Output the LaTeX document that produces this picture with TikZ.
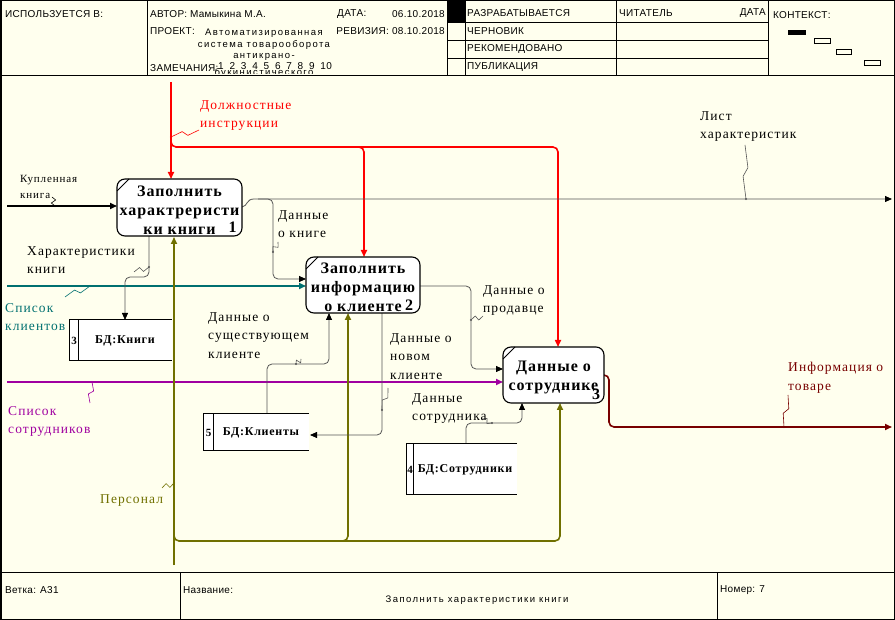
\documentclass[tikz,border=0pt]{standalone}
\usepackage{fontspec}
\setmainfont{Liberation Serif}
\newfontfamily\hsans[LetterSpace=3]{Liberation Sans}
\newfontfamily\hsansw[LetterSpace=15]{Liberation Sans}
\newfontfamily\lblfont[LetterSpace=8]{Liberation Serif}
\newfontfamily\boxfont[LetterSpace=6]{Liberation Serif}
\usetikzlibrary{arrows.meta,calc}
\definecolor{bgc}{RGB}{255,255,238}
\definecolor{lgray}{RGB}{85,85,85}
\definecolor{tealc}{RGB}{0,112,112}
\definecolor{magc}{RGB}{160,0,160}
\definecolor{olvc}{RGB}{112,112,0}
\definecolor{drc}{RGB}{120,0,0}
\definecolor{redc}{RGB}{255,0,0}
\newcommand\squig[3][lgray]{%
  \draw[#1,line width=0.6pt] (#2) -- ($(#2)!0.42!(#3)!2.5pt!90:(#3)$) -- ($(#2)!0.58!(#3)!2.5pt!-90:(#3)$) -- (#3);
  \fill[#1] (#2) circle (1.2pt);}
\begin{document}
\begin{tikzpicture}[x=1pt,y=-1pt,
  hdr/.style={font=\hsans\fontsize{10}{11}\selectfont, inner sep=0pt, anchor=west},
  hdrw/.style={font=\hsansw\fontsize{9.5}{12.5}\selectfont, inner sep=0pt},
  lbl/.style={font=\lblfont\fontsize{13.5}{18.5}\selectfont, inner sep=0pt, anchor=north west, align=left, execute at begin node=\strut},
  slbl/.style={font=\lblfont\fontsize{11}{16}\selectfont, inner sep=0pt, anchor=north west, align=left, execute at begin node=\strut},
  proc/.style={draw=black, line width=1.1pt, fill=white, rounded corners=8pt, inner sep=0pt},
  proct/.style={align=center, inner sep=0pt, font=\boxfont\bfseries\fontsize{16}{19}\selectfont},
  numf/.style={font=\boxfont\bfseries\fontsize{16}{19}\selectfont, inner sep=0pt, anchor=base},
  store/.style={fill=white, inner sep=0pt},
  storef/.style={font=\boxfont\bfseries\fontsize{12}{14}\selectfont, inner sep=0pt},
  storen/.style={font=\boxfont\bfseries\fontsize{11}{13}\selectfont, inner sep=0pt},
  sline/.style={draw=black, line width=1pt},
  gl/.style={draw=lgray, line width=0.8pt},
  tip/.style={-{Triangle[length=7pt,width=6pt,color=black]}},
  ctip/.style={-{Triangle[length=7pt,width=6pt]}},
  main/.style={line width=1.6pt},
  hl/.style={draw=black, line width=0.8pt}
]
\useasboundingbox (0,0) rectangle (895,620);
\fill[bgc] (0,0) rectangle (895,620);

% ---------------- header ----------------
\draw[hl] (0,75) -- (895,75);
\draw[hl] (0,572) -- (895,572);
\foreach \xx in {147,447,465,616,768} \draw[hl] (\xx,0) -- (\xx,75);
\foreach \yy in {22,40,58} \draw[hl] (447,\yy) -- (768,\yy);
\fill[black] (447,0) rectangle (465,22);
\foreach \xx in {180,717} \draw[hl] (\xx,572) -- (\xx,620);

\node[hdr] (usedin) at (5,14) {ИСПОЛЬЗУЕТСЯ В:};
\node[hdr] (author) at (150,14) {АВТОР: Мамыкина М.А.};
\node[hdr] (datel) at (337,14) {ДАТА:};
\node[hdr,anchor=east] (dateval) at (445,14) {06.10.2018};
\node[hdr] (proj) at (150,31) {ПРОЕКТ:};
\node[hdr,anchor=east] (rev) at (445,31) {РЕВИЗИЯ: 08.10.2018};
\node[hdrw] (pr1) at (264,33) {Автоматизированная};
\node[hdrw] (pr2) at (264,45) {система товарооборота};
\node[hdrw] (pr3) at (264,57) {антикрано-};
\begin{scope}
  \clip (147,0) rectangle (447,74);
  \node[hdrw] (pr4) at (264,73) {букинистического};
\end{scope}
\node[hdr] (notes) at (150,68) {ЗАМЕЧАНИЯ:};
\node[hdr] (nums) at (218,66) {\spaceskip=5.8pt 1 2 3 4 5 6 7 8 9 10};

\node[hdr] (st1) at (467,13) {РАЗРАБАТЫВАЕТСЯ};
\node[hdr] (st2) at (467,31) {ЧЕРНОВИК};
\node[hdr] (st3) at (467,49) {РЕКОМЕНДОВАНО};
\node[hdr] (st4) at (467,67) {ПУБЛИКАЦИЯ};
\node[hdr] (reader) at (619,13) {ЧИТАТЕЛЬ};
\node[hdr,anchor=east] (rdate) at (766,13) {ДАТА};
\node[hdr] (ctx) at (773,15) {КОНТЕКСТ:};
\fill[black] (788,30) rectangle (806,35);
\draw[black,line width=0.7pt] (814,38) rectangle (830,43);
\draw[black,line width=0.7pt] (836,49) rectangle (851,54);
\draw[black,line width=0.7pt] (864,60) rectangle (880,65);

% ---------------- footer ----------------
\node[hdr] (branch) at (5,590) {Ветка: А31};
\node[hdr] (namel) at (183,590) {Название:};
\node[hdrw] (title) at (477,600) {Заполнить характеристики книги};
\node[hdr] (numl) at (720,590) {Номер: 7};

% ---------------- boxes (geometry) ----------------
\coordinate (b1c) at (179.5,207.5);
\coordinate (b2c) at (363,285);
\coordinate (b3c) at (553.5,375);

% ---------------- connectors ----------------
% Купленная книга
\coordinate (inK) at (7,206);
\draw[black,main,tip] (inK) -- (117,206);
% Должностные инструкции
\coordinate (rtop) at (171,82);
\draw[redc,main,ctip] (rtop) -- (171,179);
\draw[redc,main,ctip,rounded corners=5pt] (171,138) -- (171,147) -- (558,147) -- (558,347);
\draw[redc,main,ctip,rounded corners=5pt] (356,147) -- (364,147) -- (364,257);
% Список клиентов
\draw[tealc,main,ctip] (7,286) -- (306,286);
% Список сотрудников
\draw[magc,main,ctip] (7,382) -- (503,382);
% Персонал
\draw[olvc,main,ctip] (174,565) -- (174,237);
\draw[olvc,main,ctip,rounded corners=5pt] (174,533) -- (174,541) -- (560,541) -- (560,403);
\draw[olvc,main,ctip,rounded corners=5pt] (340,541) -- (348,541) -- (348,313);
% Лист характеристик
\draw[gl,tip] (242,207) .. controls (248,206) and (246,199) .. (254,199) -- (892,199);
% Данные о книге
\draw[gl,tip,rounded corners=5pt] (258,199) -- (273,199) -- (273,279) -- (306,279);
% Характеристики книги
\draw[gl,tip,rounded corners=5pt] (149,236) -- (149,277) -- (125,277) -- (125,320);
% Данные о продавце
\draw[gl,tip,rounded corners=5pt] (420,286) -- (471,286) -- (471,369) -- (503,369);
% Данные о новом клиенте
\draw[gl,tip,rounded corners=5pt] (382,313) -- (382,435) -- (310,435);
% Данные о существующем клиенте
\draw[gl,tip,rounded corners=5pt] (267,414) -- (267,364) -- (329,364) -- (329,313);
% Данные сотрудника
\draw[gl,tip,rounded corners=5pt] (466,444) -- (466,423) -- (522,423) -- (522,403);
% Информация о товаре
\draw[drc,main,ctip,rounded corners=5pt] (604,375) -- (609,375) -- (609,427) -- (892,427);

% ---------------- process boxes ----------------
\node[proc, minimum width=125pt, minimum height=57pt] (b1) at (b1c) {};
\node[proct] (b1t) at ($(b1c)+(0,2.5)$) {Заполнить\\характреристи\\ки книги};
\node[numf] (n1) at (232.5,233) {1};
\draw[black,line width=0.9pt] (117,191) -- (129,179);
\node[proc, minimum width=114pt, minimum height=56pt] (b2) at (b2c) {};
\node[proct] (b2t) at ($(b2c)+(0,2.5)$) {Заполнить\\информацию\\о клиенте};
\node[numf] (n2) at (409,311) {2};
\draw[black,line width=0.9pt] (306,269) -- (318,257);
\node[proc, minimum width=101pt, minimum height=56pt] (b3) at (b3c) {};
\node[proct] (b3t) at ($(b3c)+(0,2.5)$) {Данные о\\сотруднике};
\node[numf] (n3) at (596,400) {3};
\draw[black,line width=0.9pt] (503,359) -- (515,347);

% ---------------- data stores ----------------
\node[store, minimum width=102pt, minimum height=40pt] (s1) at (121,340) {};
\draw[sline] (s1.north east) -- (s1.north west) -- (s1.south west) -- (s1.south east);
\draw[sline] (78,320) -- (78,360);
\node[storen] (s1n) at (74,341) {3};
\node[storef] (s1t) at (125,341) {БД:Книги};

\node[store, minimum width=105pt, minimum height=36pt] (s2) at (256.5,432) {};
\draw[sline] (s2.north east) -- (s2.north west) -- (s2.south west) -- (s2.south east);
\draw[sline] (213,414) -- (213,450);
\node[storen] (s2n) at (208.5,433) {5};
\node[storef] (s2t) at (261,433) {БД:Клиенты};

\node[store, minimum width=110pt, minimum height=50pt] (s3) at (462,469) {};
\draw[sline] (s3.north east) -- (s3.north west) -- (s3.south west) -- (s3.south east);
\draw[sline] (413,444) -- (413,494);
\node[storen] (s3n) at (410,470) {4};
\node[storef] (s3t) at (465,470) {БД:Сотрудники};

% ---------------- squiggles ----------------
\coordinate (q1a) at (171,137); \coordinate (q1b) at (199,130); \squig[redc]{q1a}{q1b}
\coordinate (q2a) at (55,206); \coordinate (q2b) at (52,197); \squig[black]{q2a}{q2b}
\coordinate (q3a) at (149,267); \coordinate (q3b) at (134,272); \squig{q3a}{q3b}
\coordinate (q4a) at (90,286); \coordinate (q4b) at (65,297); \squig[tealc]{q4a}{q4b}
\coordinate (q5a) at (273,252); \coordinate (q5b) at (278,242); \squig{q5a}{q5b}
\coordinate (q6a) at (746,199); \coordinate (q6b) at (745,145); \squig{q6a}{q6b}
\coordinate (q7a) at (471,320); \coordinate (q7b) at (483,316); \squig{q7a}{q7b}
\coordinate (q8a) at (296,364); \coordinate (q8b) at (301,359); \squig{q8a}{q8b}
\coordinate (q9a) at (382,410); \coordinate (q9b) at (388,388); \squig{q9a}{q9b}
\coordinate (q10a) at (92,382); \coordinate (q10b) at (90,403); \squig[magc]{q10a}{q10b}
\coordinate (q11a) at (492,423); \coordinate (q11b) at (482,419); \squig{q11a}{q11b}
\coordinate (q12a) at (174,483); \coordinate (q12b) at (162,488); \squig[olvc]{q12a}{q12b}
\coordinate (q13a) at (784,427); \coordinate (q13b) at (788,395); \squig[drc]{q13a}{q13b}

% ---------------- labels ----------------
\node[lbl, text=redc] (l1) at (200,100) {Должностные\\инструкции};
\node[slbl] (l2) at (20,175) {Купленная\\книга};
\node[lbl] (l3) at (27,246) {Характеристики\\книги};
\node[lbl, text=tealc] (l4) at (5,303) {Список\\клиентов};
\node[lbl] (l5) at (278,210) {Данные\\о книге};
\node[lbl] (l6) at (700,111) {Лист\\характеристик};
\node[lbl] (l7) at (483,285) {Данные о\\продавце};
\node[lbl] (l8) at (208,312) {Данные о\\существующем\\клиенте};
\node[lbl] (l9) at (390,333) {Данные о\\новом\\клиенте};
\node[lbl, text=magc] (l10) at (8,406) {Список\\сотрудников};
\node[lbl] (l11) at (412,393) {Данные\\сотрудника};
\node[lbl, text=olvc] (l12) at (100,490) {Персонал};
\node[lbl, text=drc] (l13) at (788,362) {Информация о\\товаре};

% ---------------- frame ----------------
\draw[black,line width=1.5pt] (0.75,0.75) rectangle (894.25,619.25);
\end{tikzpicture}
\end{document}
